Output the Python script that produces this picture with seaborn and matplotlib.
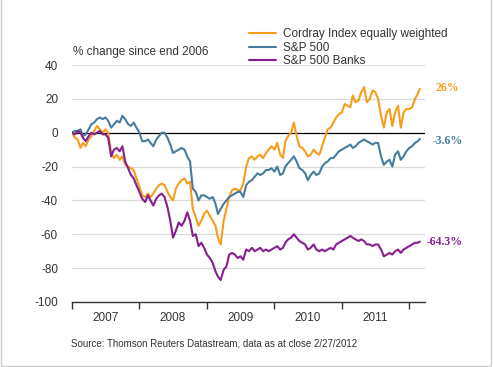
import pandas as pd
import seaborn as sns
import matplotlib.pyplot as plt
import matplotlib.dates as mdates
from matplotlib.patches import Rectangle

# half-monthly dates, Jan 2007 to the close of 27 Feb 2012
dates = [f"{y}-{m:02d}-{d:02d}" for y in range(2007, 2012) for m in range(1, 13) for d in (1, 16)]
dates += ["2012-01-01", "2012-01-16", "2012-02-01", "2012-02-16", "2012-02-27"]

sp500 = [0, 1, 1, 2, -2, -1, 2, 5, 6, 8, 9, 8, 9, 7, 3, 5, 7, 6, 10, 8, 5, 4, 6, 3,
         0, -5, -5, -4, -6, -8, -4, -2, 0, 0, -3, -7, -12, -11, -10, -9, -10, -14, -17, -33, -35, -40, -37, -37,
         -38, -39, -38, -42, -48, -45, -42, -40, -38, -37, -36, -35, -35, -38, -31, -29, -28, -26, -24, -25, -24, -22, -22, -21,
         -23, -20, -25, -24, -20, -18, -16, -14, -17, -21, -22, -24, -28, -25, -23, -25, -24, -20, -18, -17, -15, -15, -13, -11,
         -10, -9, -8, -7, -9, -8, -6, -5, -4, -5, -6, -7, -6, -6, -14, -19, -17, -16, -20, -13, -11, -16, -14, -11,
         -9, -8, -6, -5, -3.6]

cordray = [0, -3, -4, -9, -6, -8, -4, -2, 1, 4, 2, 0, 2, 0, -12, -15, -13, -16, -14, -19, -20, -21, -22, -27,
           -32, -37, -38, -36, -38, -36, -33, -31, -30, -31, -35, -38, -40, -33, -30, -28, -27, -30, -29, -45, -50, -55, -52, -48,
           -46, -49, -52, -55, -62, -66, -52, -45, -38, -34, -33, -34, -34, -30, -20, -15, -14, -16, -14, -13, -15, -12, -10, -8,
           -10, -6, -13, -15, -5, -2, 0, 6, -2, -8, -9, -11, -14, -13, -10, -12, -13, -8, -3, 2, 3, 6, 9, 11,
           12, 17, 16, 15, 22, 18, 19, 24, 27, 18, 20, 25, 24, 20, 10, 3, 12, 14, 4, 12, 16, 3, 12, 14,
           14, 15, 20, 23, 26]

banks = [0, -1, 1, 0, -3, -5, -2, 0, -1, 0, 1, -1, -1, -3, -14, -10, -9, -11, -8, -17, -21, -25, -27, -31,
         -35, -39, -41, -37, -40, -43, -39, -37, -36, -38, -44, -52, -62, -58, -53, -55, -52, -47, -52, -61, -60, -67, -65, -68,
         -72, -74, -77, -82, -85, -87, -81, -79, -72, -71, -72, -74, -73, -75, -69, -70, -68, -70, -69, -68, -70, -69, -70, -69,
         -68, -67, -69, -68, -65, -63, -62, -60, -62, -64, -65, -66, -69, -68, -66, -69, -70, -69, -70, -69, -68, -69, -66, -65,
         -64, -63, -62, -61, -62, -63, -64, -63, -64, -66, -66, -67, -66, -66, -69, -73, -72, -71, -72, -70, -69, -71, -69, -68,
         -67, -66, -65, -65, -64.3]

series_names = ["Cordray Index equally weighted", "S&P 500", "S&P 500 Banks"]
end_labels = ["26%", "-3.6%", "-64.3%"]
colors = ["#F89C1C", "#477C9E", "#861F8F"]


def main():
    df = pd.DataFrame({
        "date": pd.to_datetime(dates),
        series_names[0]: cordray,
        series_names[1]: sp500,
        series_names[2]: banks,
    })
    long_df = df.melt(id_vars="date", var_name="series", value_name="change")

    sns.set_style("white")
    plt.rcParams["font.family"] = ["Liberation Sans", "DejaVu Sans"]
    plt.rcParams["axes.unicode_minus"] = False

    fig = plt.figure(figsize=(4.93, 3.67), dpi=100)
    ax = fig.add_axes([72 / 493, 65 / 367, 353 / 493, 237 / 367])

    # light grey gridlines behind the data
    for v in [40, 20, -20, -40, -60, -80]:
        ax.axhline(v, color="#DADADA", lw=0.9, zorder=0)
    ax.axhline(0, color="black", lw=0.9, zorder=1)

    sns.lineplot(data=long_df, x="date", y="change", hue="series",
                 hue_order=series_names, palette=colors, lw=1.5, ax=ax, zorder=3)

    ax.set_xlim(pd.Timestamp("2007-01-01"), pd.Timestamp("2012-03-26"))
    ax.set_ylim(-100, 40)
    ax.set_yticks(range(-100, 41, 20))
    ax.set_xlabel("")
    ax.set_ylabel("")

    # year ticks on the boundaries, labels in the middle of each year
    ax.xaxis.set_major_locator(mdates.YearLocator())
    ax.xaxis.set_major_formatter(plt.NullFormatter())
    ax.xaxis.set_minor_locator(mdates.MonthLocator(bymonth=7))
    ax.xaxis.set_minor_formatter(mdates.DateFormatter("%Y"))
    ax.tick_params(axis="x", which="major", direction="out", length=5, width=1, color="#333333", bottom=True)
    ax.tick_params(axis="x", which="minor", length=0, pad=7, labelsize=8.5, labelcolor="#333333")
    ax.tick_params(axis="y", length=0, pad=10, labelsize=8.5, labelcolor="#333333")

    for s in ["top", "right", "left"]:
        ax.spines[s].set_visible(False)
    ax.spines["bottom"].set_color("#333333")
    ax.spines["bottom"].set_linewidth(1)

    leg = ax.legend(loc="upper left", bbox_to_anchor=(243 / 493, 1 - 22 / 367),
                    bbox_transform=fig.transFigure, frameon=False, fontsize=8.5,
                    handlelength=2.3, handletextpad=0.6, labelspacing=0.15, borderpad=0)
    for t in leg.get_texts():
        t.set_color("#333333")

    fig.text(73 / 493, 1 - 52 / 367, "% change since end 2006", fontsize=8.5,
             color="#333333", va="center")
    fig.text(71 / 493, 1 - 344 / 367, "Source: Thomson Reuters Datastream, data as at close 2/27/2012",
             fontsize=7, color="#333333", va="center")

    # closing values next to the line ends
    label_pos = [(435, 88), (433, 141), (427, 242)]
    for text, c, (px, py) in zip(end_labels, colors, label_pos):
        fig.text(px / 493, 1 - py / 367, text, color=c, fontsize=8.5, fontweight="bold",
                 family=["Liberation Serif", "DejaVu Serif"], va="center")

    fig.patches.append(Rectangle((1 / 493, 1 / 367), 490 / 493, 1.2, transform=fig.transFigure,
                                 fill=False, edgecolor="#CCCCCC", lw=1))

    fig.savefig("out.png", dpi=100)


if __name__ == "__main__":
    main()
